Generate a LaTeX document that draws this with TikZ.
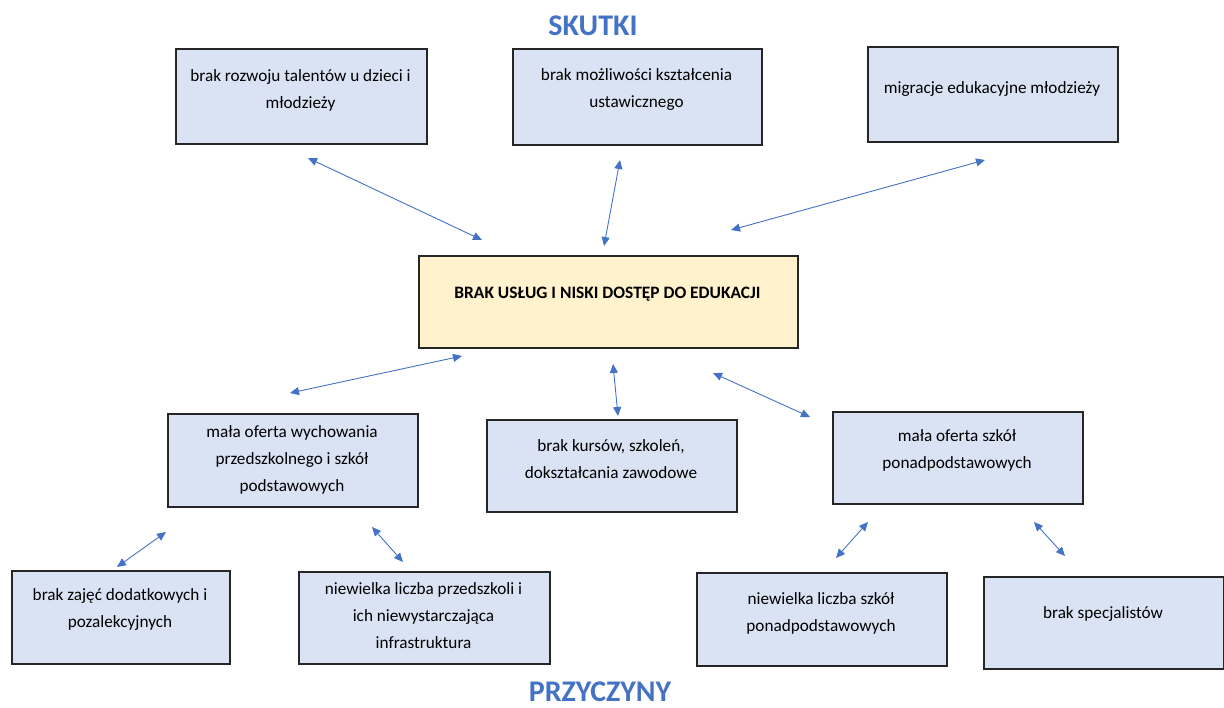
\documentclass[tikz,border=0pt]{standalone}
\usepackage{fontspec}
\setmainfont{Carlito}
\usetikzlibrary{arrows.meta}
\definecolor{boxblue}{HTML}{DAE3F3}
\definecolor{boxyellow}{HTML}{FFF2CC}
\definecolor{arrblue}{HTML}{4472C4}
\definecolor{edge}{HTML}{262626}
\tikzset{
  box/.style={draw=edge, line width=0.8pt, fill=boxblue, inner sep=0pt, anchor=north west},
  mainbox/.style={box, fill=boxyellow},
  txt/.style={align=center, font=\fontsize{8.6}{13.5}\selectfont, text=black, inner sep=0pt},
  title/.style={font=\fontsize{15}{18}\selectfont\bfseries, text=arrblue, inner sep=0pt},
  link/.style={draw=arrblue, line width=0.45pt, {Triangle[length=4.5pt,width=4pt]}-{Triangle[length=4.5pt,width=4pt]}}
}
\begin{document}
\begin{tikzpicture}[x=0.5pt,y=-0.5pt]
\useasboundingbox (0,0) rectangle (1224,707);
% titles
\node[title] (skutki) at (593,26) {SKUTKI};
\node[title] (przyczyny) at (600,692) {PRZYCZYNY};
% top boxes
\node[box, minimum width=125.5pt, minimum height=47.5pt] (t1) at (175,48) {};
\node[txt] at (300.5,90) {brak rozwoju talentów u dzieci i\\młodzieży};
\node[box, minimum width=124.5pt, minimum height=48pt] (t2) at (512,48) {};
\node[txt] at (636.5,90) {brak możliwości kształcenia\\ustawicznego};
\node[box, minimum width=125pt, minimum height=47.5pt] (t3) at (867,46) {};
\node[txt] at (992,89) {migracje edukacyjne młodzieży};
% center
\node[mainbox, minimum width=189.5pt, minimum height=46pt] (c) at (418,255) {};
\node[txt, font=\fontsize{8.7}{13.5}\selectfont\bfseries] at (607.5,294) {BRAK USŁUG I NISKI DOSTĘP DO EDUKACJI};
% middle row
\node[box, minimum width=125pt, minimum height=46.5pt] (m1) at (167,413) {};
\node[txt] at (292,459.5) {mała oferta wychowania\\przedszkolnego i szkół\\podstawowych};
\node[box, minimum width=125pt, minimum height=46pt] (m2) at (486,419) {};
\node[txt] at (611,459) {brak kursów, szkoleń,\\dokształcania zawodowe};
\node[box, minimum width=125pt, minimum height=46pt] (m3) at (832,411) {};
\node[txt] at (957,450.5) {mała oferta szkół\\ponadpodstawowych};
% bottom row
\node[box, minimum width=109pt, minimum height=46.5pt] (b1) at (11,570) {};
\node[txt] at (120,609.5) {brak zajęć dodatkowych i\\pozalekcyjnych};
\node[box, minimum width=125.5pt, minimum height=46pt] (b2) at (298,571) {};
\node[txt] at (423.5,616) {niewielka liczba przedszkoli i\\ich niewystarczająca\\infrastruktura};
\node[box, minimum width=125pt, minimum height=46.5pt] (b3) at (696,572) {};
\node[txt] at (821,613.5) {niewielka liczba szkół\\ponadpodstawowych};
\node[box, minimum width=120pt, minimum height=46pt] (b4) at (983,576) {};
\node[txt] at (1103,614) {brak specjalistów};
% arrow end points
\coordinate (a1s) at (308,158); \coordinate (a1e) at (482,240);
\coordinate (a2s) at (620,160); \coordinate (a2e) at (604,246);
\coordinate (a3s) at (985,160); \coordinate (a3e) at (731,230);
\coordinate (a4s) at (462,356); \coordinate (a4e) at (290,393);
\coordinate (a5s) at (613,364); \coordinate (a5e) at (618,416);
\coordinate (a6s) at (713,373); \coordinate (a6e) at (810,417);
\coordinate (a7s) at (166,532); \coordinate (a7e) at (117,567);
\coordinate (a8s) at (372,527); \coordinate (a8e) at (403,562);
\coordinate (a9s) at (868,522); \coordinate (a9e) at (836,558);
\coordinate (a10s) at (1034,522); \coordinate (a10e) at (1065,556);
\foreach \i in {1,...,10} { \draw[link] (a\i s) -- (a\i e); }
\end{tikzpicture}
\end{document}
